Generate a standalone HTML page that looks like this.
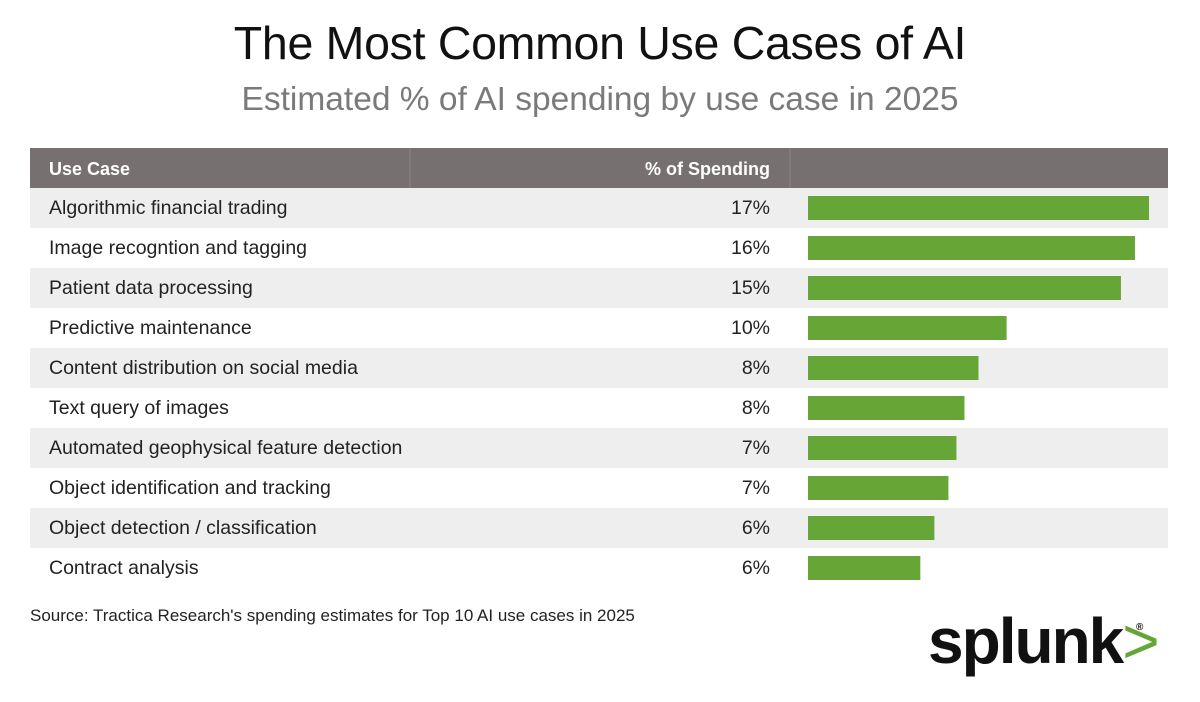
<!DOCTYPE html>
<html><head><meta charset="utf-8"><style>
body{margin:0;width:1200px;height:702px;background:#fff;font-family:"Liberation Sans",sans-serif;position:relative;overflow:hidden}
.t{position:absolute;white-space:nowrap}
</style></head><body>
<div class="t" style="left:0;width:1200px;text-align:center;top:16px;font-size:46.5px;color:#111;letter-spacing:-0.3px">The Most Common Use Cases of AI</div>
<div class="t" style="left:0;width:1200px;text-align:center;top:81px;font-size:33.5px;color:#7a7a7a">Estimated % of AI spending by use case in 2025</div>
<svg id="c" width="1200" height="702" style="position:absolute;left:0;top:0"></svg>
<div class="t" style="left:30px;top:606px;font-size:17px;color:#222">Source: Tractica Research's spending estimates for Top 10 AI use cases in 2025</div>
<div class="t" style="left:928px;top:604px;font-size:64px;font-weight:bold;color:#111;letter-spacing:-2px">splunk<span style="color:#65a637;font-weight:normal">&gt;</span><sup style="font-size:10px;position:absolute;left:208px;top:18px">®</sup></div>
<script>
const categories=["Algorithmic financial trading","Image recogntion and tagging","Patient data processing","Predictive maintenance","Content distribution on social media","Text query of images","Automated geophysical feature detection","Object identification and tracking","Object detection / classification","Contract analysis"];
const values=[17.0,16.3,15.6,9.9,8.5,7.8,7.4,7.0,6.3,5.6];
const labels=["17%","16%","15%","10%","8%","8%","7%","7%","6%","6%"];
const svg=document.getElementById('c');const NS='http://www.w3.org/2000/svg';
function mk(t,a){const e=document.createElementNS(NS,t);for(const k in a)e.setAttribute(k,a[k]);svg.appendChild(e);return e;}
const x0=808,pxPer=20.06,rowTop=188,rowH=40;
const xs=v=>v*pxPer;
let h=mk('rect',{x:30,y:148,width:1138,height:40,fill:'#767170'});


[410,790].forEach(x=>{const l=mk('line',{x1:x,x2:x,y1:148,y2:188,stroke:'#8a8584','stroke-width':1});

});
let t1=mk('text',{x:49,y:175,fill:'#fff','font-size':18,'font-weight':'bold','font-family':'Liberation Sans'});t1.textContent='Use Case';


let t2=mk('text',{x:770,y:175,fill:'#fff','font-size':18,'font-weight':'bold','text-anchor':'end','font-family':'Liberation Sans'});t2.textContent='% of Spending';


categories.forEach((c,i)=>{const y=rowTop+i*rowH;
 if(i%2==0){const r=mk('rect',{x:30,y:y,width:1138,height:rowH,fill:'#eeeeee'});
 
 }
 const a=mk('text',{x:49,y:y+26,fill:'#222','font-size':19.5,'font-family':'Liberation Sans'});a.textContent=c;
 
 
 const b=mk('text',{x:770,y:y+26,fill:'#222','font-size':19.5,'text-anchor':'end','font-family':'Liberation Sans'});b.textContent=labels[i];
 
 
 const bar=mk('rect',{x:x0,y:y+8,width:xs(values[i]),height:24,fill:'#65a637'});
 
 
});
</script>
</body></html>
